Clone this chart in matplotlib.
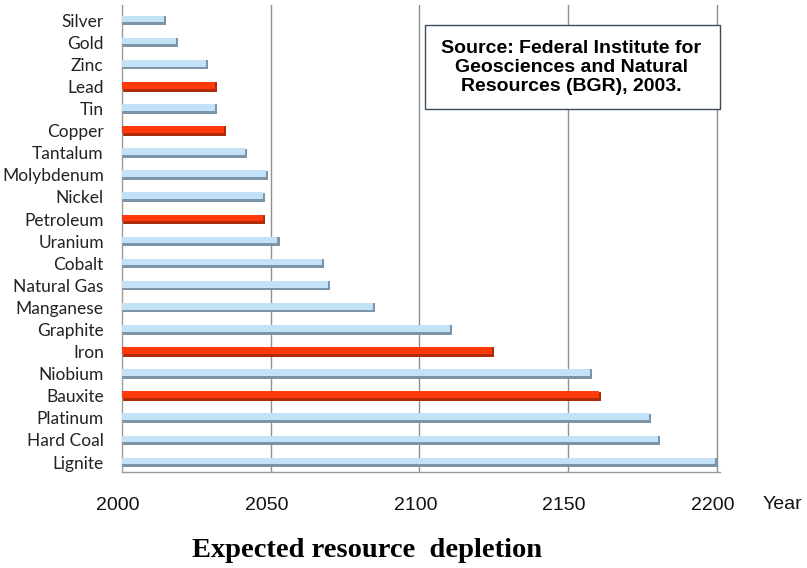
import numpy as np
import matplotlib.pyplot as plt
import matplotlib.transforms as mtransforms
from matplotlib.patches import Rectangle

# resources, top to bottom
resources = ['Silver', 'Gold', 'Zinc', 'Lead', 'Tin', 'Copper', 'Tantalum',
             'Molybdenum', 'Nickel', 'Petroleum', 'Uranium', 'Cobalt',
             'Natural Gas', 'Manganese', 'Graphite', 'Iron', 'Niobium',
             'Bauxite', 'Platinum', 'Hard Coal', 'Lignite']
# year of expected depletion
years = [2015, 2019, 2029, 2032, 2032, 2035, 2042,
         2049, 2048, 2048, 2053, 2068,
         2070, 2085, 2111, 2125, 2158,
         2161, 2178, 2181, 2200]
highlight = ['Lead', 'Copper', 'Petroleum', 'Iron', 'Bauxite']
xticks = [2000, 2050, 2100, 2150, 2200]

fig = plt.figure(figsize=(8.07, 5.68), dpi=100)
ax = fig.add_axes([0.151, 0.169, 0.741, 0.822])

n = len(resources)
ypos = np.arange(n)[::-1]
base = xticks[0]
widths = [y - base for y in years]

for i, r in enumerate(resources):
    if r in highlight:
        fc, ec = '#ff3a0a', '#b02a0c'
    else:
        fc, ec = '#c4e2f7', '#7d93a6'
    # darker underside gives a bit of a tubular look
    ax.barh(ypos[i] - 0.02, widths[i], left=base, height=0.42,
            color=ec, zorder=2)
    ax.barh(ypos[i] + 0.05, widths[i] - 0.7, left=base, height=0.30,
            color=fc, zorder=3)

for x in xticks[1:]:
    ax.axvline(x, color='#8f8f8f', lw=1.0, zorder=1)

ax.set_xlim(2000, 2201)
ax.set_ylim(-0.45, 20.68)
ax.set_yticks(ypos)
ax.set_yticklabels(resources, fontsize=12.5, family='Lato', color='#222222')
ax.set_xticks(xticks)
ax.set_xticklabels([str(x) for x in xticks], fontsize=14,
                   family='Liberation Sans', color='#111111')
ax.tick_params(axis='y', length=0, pad=13)
ax.tick_params(axis='x', length=0, pad=18)
shift = mtransforms.ScaledTranslation(-4 / 100, 0, fig.dpi_scale_trans)
for lab in ax.get_xticklabels():
    lab.set_transform(lab.get_transform() + shift)
for s in ['top', 'right']:
    ax.spines[s].set_visible(False)
for s in ['left', 'bottom']:
    ax.spines[s].set_color('#9a9a9a')
    ax.spines[s].set_linewidth(1.0)

fig.text(0.945, 0.111, 'Year', fontsize=14, family='Liberation Sans',
         color='#111111', ha='left', va='center')

fig.text(0.455, 0.030, 'Expected resource  depletion', fontsize=20.5,
         family='Liberation Serif', fontweight='bold', ha='center',
         va='center')

# source note box
ax.add_patch(Rectangle((2102, 15.97), 99, 3.8, fc='white', ec='#3c4a5e',
                       lw=1.0, zorder=5, clip_on=False))
ax.text(2151, 17.87, 'Source: Federal Institute for\nGeosciences and Natural\n'
        'Resources (BGR), 2003.', fontsize=14, family='Liberation Sans',
        fontweight='bold', ha='center', va='center', linespacing=1.15,
        zorder=6)

plt.savefig('out.png', dpi=100)
